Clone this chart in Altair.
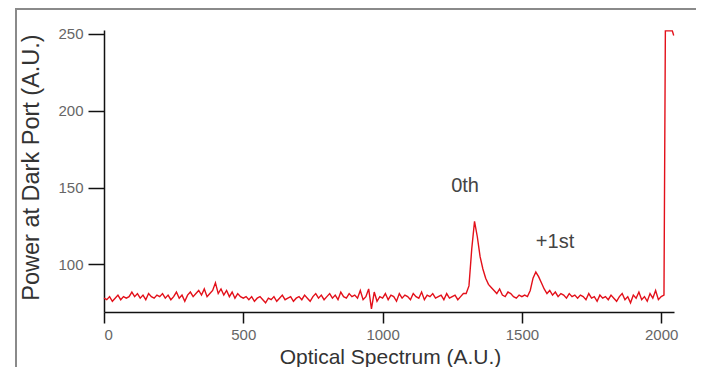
import altair as alt
import pandas as pd

# Sample positions (optical spectrum index) and measured power values
spectrum_x = list(range(0, 2020, 10)) + [2015, 2040, 2045]
power_y = [
    78, 77, 79, 76, 78, 80, 77, 79, 78, 79,
    82, 79, 81, 78, 80, 77, 81, 79, 78, 80,
    79, 81, 78, 80, 77, 79, 82, 78, 80, 76,
    80, 82, 79, 81, 83, 80, 84, 79, 81, 83,
    88, 81, 84, 80, 83, 79, 82, 78, 81, 79,
    78, 79, 77, 79, 76, 78, 79, 77, 75, 78,
    77, 79, 76, 78, 80, 77, 78, 79, 76, 78,
    79, 77, 80, 78, 76, 79, 81, 78, 80, 77,
    79, 81, 78, 80, 77, 82, 79, 78, 81, 79,
    80, 78, 83, 77, 79, 84, 71, 82, 76, 79,
    78, 81, 77, 80, 79, 76, 81, 78, 80, 79,
    77, 81, 79, 78, 82, 77, 80, 79, 81, 78,
    79, 80, 77, 81, 78, 79, 80, 77, 79, 81,
    81, 86, 110, 128, 118, 105, 97, 91, 87, 85,
    83, 81, 84, 80, 79, 82, 81, 79, 78, 80,
    79, 80, 79, 83, 91, 95, 92, 88, 84, 81,
    83, 80, 82, 79, 81, 80, 78, 81, 79, 80,
    78, 80, 79, 77, 81, 78, 79, 76, 80, 78,
    79, 77, 80, 78, 76, 79, 81, 77, 79, 75,
    80, 78, 82, 77, 79, 76, 81, 78, 83, 77,
    79, 80,
    252, 252, 249,
]

# Peak annotations
note_text = ["0th", "+1st"]
note_x = [1296, 1619]
note_y = [151, 114.5]

x_ticks = [0, 500, 1000, 1500, 2000]
y_ticks = [100, 150, 200, 250]

df = pd.DataFrame({"x": spectrum_x, "y": power_y})
notes = pd.DataFrame({"label": note_text, "x": note_x, "y": note_y})

W, H = 570, 282
x_scale = alt.Scale(domain=[0, 2046], nice=False, zero=False)
y_scale = alt.Scale(domain=[69, 252.6], nice=False, zero=False)

line = alt.Chart(df).mark_line(color="#e3101a", strokeWidth=1.4).encode(
    x=alt.X("x:Q", scale=x_scale,
            axis=alt.Axis(values=x_ticks, format="d",
                          title="Optical Spectrum (A.U.)",
                          grid=False, domainColor="#111", domainWidth=1.5,
                          tickColor="#111", tickWidth=1.5, tickSize=11,
                          labelColor="#666", labelFontSize=15, labelPadding=4,
                          labelFont="Liberation Sans",
                          titleFont="Liberation Sans", titleFontSize=21,
                          titleFontWeight="normal", titleColor="#333",
                          titleX=286, titleY=51.5, titleBaseline="alphabetic")),
    y=alt.Y("y:Q", scale=y_scale,
            axis=alt.Axis(values=y_ticks, format="d",
                          title="Power at Dark Port (A.U.)",
                          grid=False, domainColor="#111", domainWidth=1.5,
                          tickColor="#111", tickWidth=1.5, tickSize=16,
                          labelColor="#666", labelFontSize=15, labelPadding=5,
                          labelFont="Liberation Sans",
                          titleFont="Liberation Sans", titleFontSize=23.5,
                          titleFontWeight="normal", titleColor="#333",
                          titleX=-61, titleY=137, titleAngle=270,
                          titleAlign="center", titleBaseline="bottom")),
)

text = alt.Chart(notes).mark_text(fontSize=20, color="#444",
                                  font="Liberation Sans").encode(
    x=alt.X("x:Q", scale=x_scale),
    y=alt.Y("y:Q", scale=y_scale),
    text="label:N",
)

frame_left = alt.Chart(pd.DataFrame({"a": [0]})).mark_rule(
    color="#8a8a8a", strokeWidth=2).encode(
    x=alt.value(-88), y=alt.value(-21), y2=alt.value(340))
frame_top = alt.Chart(pd.DataFrame({"a": [0]})).mark_rule(
    color="#8a8a8a", strokeWidth=2).encode(
    x=alt.value(-89), x2=alt.value(600), y=alt.value(-21))

chart = alt.layer(line, text, frame_left, frame_top).properties(
    width=W, height=H,
    autosize=alt.AutoSizeParams(type="none"),
    padding={"left": 96, "top": 22, "right": 22, "bottom": 55},
).configure(background="white").configure_view(stroke=None)

chart.save("out.html", embed_options={"renderer": "svg", "actions": False})
